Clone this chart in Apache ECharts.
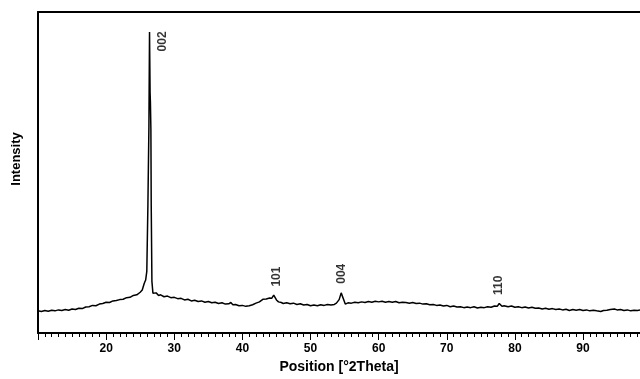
<!DOCTYPE html>
<html>
<head>
<meta charset="utf-8">
<script src="https://cdn.jsdelivr.net/npm/echarts@6/dist/echarts.min.js"></script>
<style>
  html, body { margin: 0; padding: 0; background: #fff; }
  #chart { width: 640px; height: 379px; }
</style>
</head>
<body>
<div id="chart"></div>
<script>
// 2Theta positions (deg) and intensity (arbitrary, 0-100)
var twoTheta = [
  10, 10.5, 11, 11.5, 12, 12.5, 13, 13.5, 14, 14.5, 15, 15.5, 16, 16.5, 17, 17.5, 18, 18.5, 19, 19.5,
  20, 20.5, 21, 21.5, 22, 22.5, 23, 23.5, 24, 24.5, 25, 25.3, 25.6, 25.8, 25.97, 26.13, 26.28, 26.37,
  26.45, 26.5, 26.57, 26.62, 26.72, 26.87, 27, 27.35, 27.7, 28, 28.5, 29, 29.5, 30, 30.5, 31, 31.5,
  32, 32.5, 33, 33.5, 34, 34.5, 35, 35.5, 36, 36.5, 37, 37.5, 38, 38.3, 38.6, 39, 39.5, 40, 40.5,
  41, 41.5, 42, 42.5, 43, 43.5, 44, 44.3, 44.6, 45, 45.3, 45.7, 46, 46.5, 47, 47.5, 48, 48.5, 49, 49.5,
  50, 50.5, 51, 51.5, 52, 52.5, 53, 53.5, 53.8, 54.2, 54.5, 54.7, 54.9, 55.1, 55.5, 56, 56.5, 57, 57.5,
  58, 58.5, 59, 59.5, 60, 60.5, 61, 61.5, 62, 62.5, 63, 63.5, 64, 64.5, 65, 65.5, 66, 66.5, 67, 67.5,
  68, 68.5, 69, 69.5, 70, 70.5, 71, 71.5, 72, 72.5, 73, 73.5, 74, 74.5, 75, 75.5, 76, 76.5, 77, 77.4,
  77.7, 78.1, 78.4, 79, 79.5, 80, 80.5, 81, 81.5, 82, 82.5, 83, 83.5, 84, 84.5, 85, 85.5, 86, 86.5,
  87, 87.5, 88, 88.5, 89, 89.5, 90, 90.5, 91, 91.5, 92, 92.6, 93, 93.5, 94, 94.6, 95, 95.5, 96, 96.5,
  97, 97.5, 98, 98.5
];
var intensity = [
  6.9, 6.7, 7.0, 6.8, 7.1, 6.9, 7.2, 7.0, 7.3, 7.1, 7.5, 7.3, 7.7, 7.6, 8.1, 8.2, 8.6, 8.5, 9.0, 9.2,
  9.6, 9.5, 10.0, 10.1, 10.4, 10.5, 11.0, 11.1, 11.7, 11.9, 12.7, 13.4, 15.5, 16.5, 19.2, 39.6, 64.4, 93.8,
  75.0, 71.8, 63.5, 39.6, 16.1, 12.4, 12.1, 12.5, 11.7, 11.9, 11.3, 11.5, 11.0, 11.1, 10.7, 10.8, 10.3,
  10.5, 10.0, 10.2, 9.8, 10.0, 9.6, 9.8, 9.4, 9.6, 9.2, 9.4, 9.0, 9.1, 9.5, 8.8, 8.9, 8.5, 8.6, 8.3,
  8.5, 8.8, 9.3, 9.7, 10.5, 10.6, 10.9, 10.8, 11.8, 10.3, 9.7, 9.5, 9.2, 9.4, 9.1, 9.3, 8.9, 9.1, 8.7, 8.9,
  8.5, 8.7, 8.5, 8.8, 8.6, 8.9, 8.7, 8.9, 9.3, 10.4, 12.5, 12.7, 10.2, 9.0, 9.4, 9.3, 9.6, 9.4, 9.7,
  9.5, 9.8, 9.6, 9.9, 9.7, 9.9, 9.6, 9.8, 9.6, 9.8, 9.4, 9.6, 9.5, 9.3, 9.5, 9.2, 9.3, 9.0, 9.1, 8.8,
  8.9, 8.6, 8.7, 8.4, 8.6, 8.2, 8.4, 8.1, 8.2, 7.9, 8.1, 7.9, 8.2, 7.8, 8.0, 7.9, 8.2, 8.0, 8.4, 8.3,
  9.2, 8.3, 8.5, 8.2, 8.4, 8.0, 8.2, 7.9, 8.1, 7.8, 8.0, 7.7, 7.8, 7.5, 7.7, 7.4, 7.6, 7.3, 7.5,
  7.2, 7.4, 7.0, 7.3, 7.1, 7.3, 7.0, 7.2, 6.9, 7.1, 6.9, 6.7, 7.0, 7.1, 7.3, 7.5, 7.2, 7.3, 7.0, 7.2,
  6.9, 7.1, 7.0, 7.2
];

// reflection labels at their peaks
var peakNames = ["002", "101", "004", "110"];
var peakAngles = [26.37, 44.6, 54.7, 77.7];
var peakTops = [93.8, 11.8, 12.7, 9.2];

var xTickStep = 10;

var chart = echarts.init(document.getElementById("chart"));
var font = "'Liberation Sans', Arial, sans-serif";

var lineData = twoTheta.map(function (t, i) { return [t, intensity[i]]; });
var labelPos = { "002": [14, 20], "101": [3, -8] };
var peakData = peakNames.map(function (name, i) {
  return {
    value: [peakAngles[i], peakTops[i]],
    name: name,
    label: { position: labelPos[name] || [0, -8] }
  };
});

chart.setOption({
  animation: false,
  grid: { left: 38, right: 0, top: 12, bottom: 44 },
  xAxis: [
    {
      type: "value",
      min: 10,
      max: 98.36,
      interval: xTickStep,
      name: "Position [°2Theta]",
      nameLocation: "middle",
      nameGap: 27,
      nameTextStyle: { fontFamily: font, fontWeight: "bold", fontSize: 14, color: "#000" },
      axisLine: { lineStyle: { color: "#000", width: 2 } },
      axisTick: { length: 7, lineStyle: { color: "#000", width: 1 } },
      minorTick: { show: true, splitNumber: 10, length: 4, lineStyle: { color: "#000", width: 1 } },
      axisLabel: {
        margin: 10, showMinLabel: false, showMaxLabel: false,
        fontFamily: font, fontWeight: "bold", fontSize: 12, color: "#000"
      },
      splitLine: { show: false }
    },
    {
      // top edge of the frame
      type: "value",
      position: "top",
      min: 10,
      max: 98.36,
      axisLine: { show: true, lineStyle: { color: "#000", width: 2 } },
      axisTick: { show: false },
      axisLabel: { show: false },
      splitLine: { show: false }
    }
  ],
  yAxis: {
    type: "value",
    min: 0,
    max: 100,
    name: "Intensity",
    nameLocation: "middle",
    nameGap: 15,
    nameTextStyle: {
      fontFamily: font, fontWeight: "bold", fontSize: 13, color: "#000",
      padding: [0, 0, 0, 27]
    },
    axisLine: { show: true, lineStyle: { color: "#000", width: 2 } },
    axisTick: { show: false },
    axisLabel: { show: false },
    splitLine: { show: false }
  },
  series: [
    {
      type: "line",
      data: lineData,
      symbol: "none",
      lineStyle: { color: "#000", width: 1.5 },
      clip: true
    },
    {
      type: "scatter",
      data: peakData,
      symbolSize: 1,
      itemStyle: { color: "rgba(0,0,0,0)" },
      label: {
        show: true,
        formatter: "{b}",
        rotate: 90,
        align: "left",
        verticalAlign: "middle",
        fontFamily: font,
        fontWeight: "bold",
        fontSize: 12,
        color: "#000"
      }
    }
  ]
});
</script>
</body>
</html>
